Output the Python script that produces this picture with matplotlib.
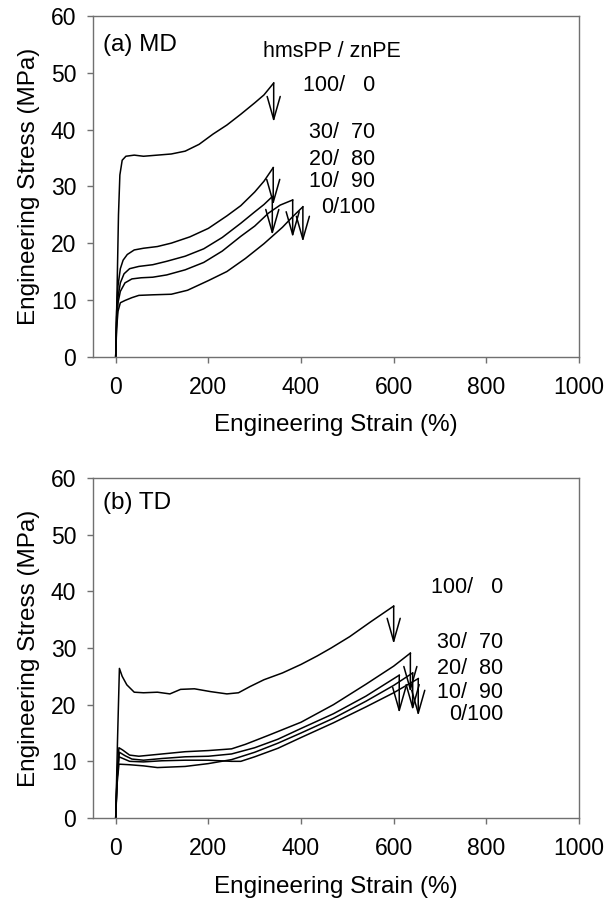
import matplotlib
matplotlib.use("Agg")
import matplotlib.pyplot as plt

plt.rcParams['font.family'] = ['Liberation Sans', 'DejaVu Sans']

# ---------------- data: (a) MD ----------------
md_100_0_x = [0, 3, 6, 9, 14, 22, 40, 60, 90, 120, 150, 180, 210, 240, 270, 300, 320, 341]
md_100_0_y = [0, 12, 25, 32, 34.6, 35.3, 35.5, 35.3, 35.5, 35.7, 36.2, 37.4, 39.2, 40.8, 42.7, 44.7, 46.1, 48.2]
md_30_70_x = [0, 2, 5, 10, 16, 25, 40, 60, 90, 120, 160, 200, 240, 270, 300, 320, 340]
md_30_70_y = [0, 8, 12.5, 15.5, 17, 18, 18.8, 19.1, 19.4, 20.0, 21.1, 22.6, 24.8, 26.6, 29.0, 30.9, 33.3]
md_20_80_x = [0, 2, 5, 10, 18, 30, 50, 80, 110, 150, 190, 230, 270, 300, 320, 338]
md_20_80_y = [0, 7, 10.5, 13, 14.6, 15.5, 15.9, 16.2, 16.8, 17.7, 19.0, 21.0, 23.5, 25.5, 26.8, 28.2]
md_10_90_x = [0, 2, 5, 10, 20, 35, 55, 80, 110, 150, 190, 230, 270, 300, 330, 355, 382]
md_10_90_y = [0, 6, 9.5, 11.5, 13, 13.7, 13.9, 14.0, 14.4, 15.3, 16.6, 18.6, 21.2, 23.0, 25.3, 26.7, 27.6]
md_0_100_x = [0, 2, 5, 10, 20, 35, 50, 80, 120, 155, 200, 240, 280, 320, 360, 380, 404]
md_0_100_y = [0, 5, 8, 9.5, 9.9, 10.4, 10.8, 10.9, 11.0, 11.7, 13.4, 15.0, 17.3, 19.9, 22.8, 24.5, 26.4]
md_break_tip = [41.3, 26.7, 21.4, 21.0, 20.2]

# ---------------- data: (b) TD ----------------
td_100_0_x = [0, 4, 8, 14, 24, 40, 60, 90, 117, 140, 170, 205, 240, 265, 290, 320, 360, 400, 435, 465, 505, 550, 600]
td_100_0_y = [0, 14, 26.4, 25.0, 23.5, 22.2, 22.1, 22.2, 21.9, 22.7, 22.8, 22.3, 21.9, 22.1, 23.2, 24.4, 25.6, 27.1, 28.6, 30.0, 32.0, 34.6, 37.4]
td_30_70_x = [0, 3, 7, 15, 30, 50, 100, 150, 200, 250, 280, 330, 400, 470, 540, 600, 636]
td_30_70_y = [0, 8, 12.4, 12.0, 11.1, 10.9, 11.3, 11.7, 11.9, 12.2, 13.0, 14.6, 16.9, 20.0, 23.6, 26.8, 29.1]
td_20_80_x = [0, 3, 8, 20, 35, 60, 100, 150, 200, 250, 300, 350, 400, 470, 540, 612]
td_20_80_y = [0, 7, 11.6, 11.0, 10.4, 10.2, 10.5, 10.8, 10.9, 11.3, 12.4, 13.9, 15.8, 18.4, 21.5, 25.2]
td_10_90_x = [0, 3, 7, 30, 60, 90, 150, 200, 250, 300, 350, 400, 470, 540, 600, 641]
td_10_90_y = [0, 6, 9.5, 9.4, 9.2, 8.9, 9.1, 9.6, 10.3, 11.6, 13.2, 15.0, 17.6, 20.6, 23.4, 25.6]
td_0_100_x = [0, 3, 7, 30, 60, 100, 150, 200, 250, 270, 300, 350, 400, 470, 540, 600, 653]
td_0_100_y = [0, 7, 10.8, 10.0, 9.9, 10.1, 10.2, 10.2, 10.0, 10.0, 10.8, 12.3, 14.2, 16.8, 19.6, 22.1, 24.6]
td_break_tip = [30.7, 22.2, 18.5, 19.0, 18.0]

labels = ["100/   0", "30/  70", "20/  80", "10/  90", "0/100"]
md_label_y = [47.8, 39.4, 34.8, 30.8, 26.2]
td_label_y = [40.6, 30.9, 26.3, 22.2, 18.3]

xticks = [0, 200, 400, 600, 800, 1000]
yticks = [0, 10, 20, 30, 40, 50, 60]

fig = plt.figure(figsize=(6.14, 9.05), dpi=100)
ax1 = fig.add_axes([93/614, 1-356.7/905, 486/614, 340.7/905])
ax2 = fig.add_axes([93/614, 1-818/905, 486/614, 340/905])

spine_c = '#707070'


def style(ax):
    ax.set_xlim(-49, 1000)
    ax.set_ylim(0, 60)
    ax.set_xticks(xticks)
    ax.set_yticks(yticks)
    for s in ax.spines.values():
        s.set_color(spine_c)
        s.set_linewidth(1.0)
    ax.tick_params(direction='out', length=4, width=1.0, color=spine_c,
                   labelsize=16.5, labelcolor='black')
    ax.tick_params(axis='x', pad=10)
    ax.tick_params(axis='y', pad=8)
    ax.set_xlabel('Engineering Strain (%)', fontsize=17.5, labelpad=11)
    ax.set_ylabel('Engineering Stress (MPa)', fontsize=17.5, labelpad=8)


def draw(ax, curves, tips, label_x, label_y):
    for (xs, ys), tip in zip(curves, tips):
        ax.plot(xs, ys, color='black', lw=1.1)
        ax.annotate('', xy=(xs[-1], tip), xytext=(xs[-1], ys[-1]),
                    arrowprops=dict(arrowstyle='->,head_length=1.65,head_width=0.47',
                                    lw=1.1, color='black', shrinkA=0, shrinkB=0,
                                    mutation_scale=10))
    for lab, ly in zip(labels, label_y):
        ax.text(label_x, ly, lab, ha='right', va='center', fontsize=15.5)


md_curves = [(md_100_0_x, md_100_0_y), (md_30_70_x, md_30_70_y), (md_20_80_x, md_20_80_y),
             (md_10_90_x, md_10_90_y), (md_0_100_x, md_0_100_y)]
td_curves = [(td_100_0_x, td_100_0_y), (td_30_70_x, td_30_70_y), (td_20_80_x, td_20_80_y),
             (td_10_90_x, td_10_90_y), (td_0_100_x, td_0_100_y)]

style(ax1)
style(ax2)
draw(ax1, md_curves, md_break_tip, 560, md_label_y)
draw(ax2, td_curves, td_break_tip, 836, td_label_y)

ax1.text(467, 53.7, 'hmsPP / znPE', ha='center', va='center', fontsize=15.5)
ax1.text(0.02, 0.915, '(a) MD', transform=ax1.transAxes, ha='left', va='center', fontsize=17.5)
ax2.text(0.02, 0.926, '(b) TD', transform=ax2.transAxes, ha='left', va='center', fontsize=17.5)

fig.savefig('out.png', dpi=100)
